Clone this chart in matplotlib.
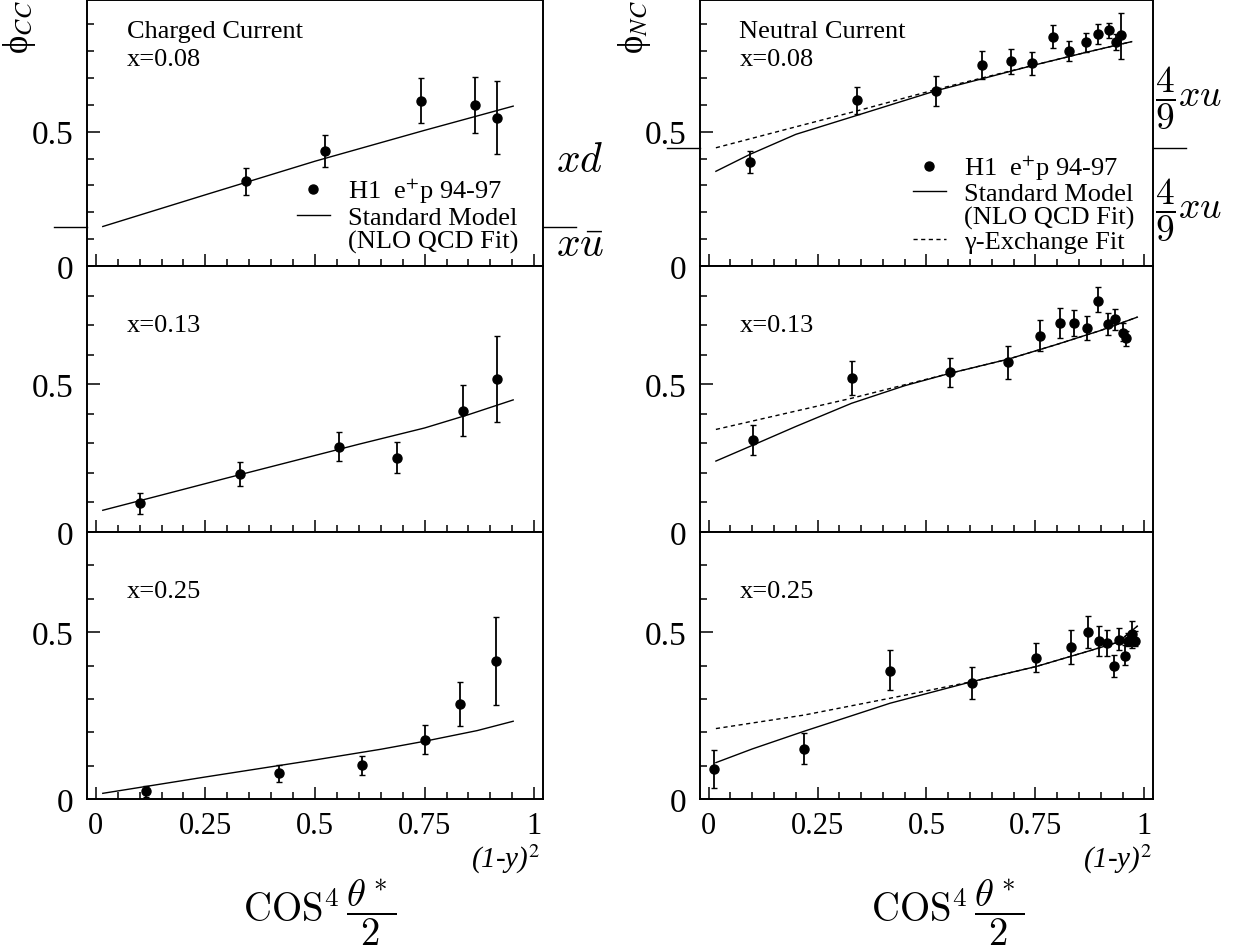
import numpy as np
import matplotlib.pyplot as plt
from matplotlib.lines import Line2D
from matplotlib.ticker import MultipleLocator

plt.rcParams['font.family'] = ['Liberation Serif', 'DejaVu Serif']
plt.rcParams['mathtext.fontset'] = 'stix'

# ---------------- data ----------------
# charged current, x = 0.08
cc08_x = [0.343, 0.523, 0.741, 0.865, 0.916]
cc08_y = [0.316, 0.429, 0.614, 0.600, 0.552]
cc08_lo = [0.266, 0.369, 0.531, 0.496, 0.417]
cc08_hi = [0.366, 0.488, 0.699, 0.705, 0.689]
cc08_sm_x = [0.016, 0.25, 0.5, 0.75, 0.952]
cc08_sm_y = [0.147, 0.265, 0.39, 0.505, 0.595]

# charged current, x = 0.13
cc13_x = [0.102, 0.329, 0.555, 0.688, 0.837, 0.916]
cc13_y = [0.097, 0.196, 0.287, 0.251, 0.411, 0.517]
cc13_lo = [0.061, 0.154, 0.239, 0.199, 0.324, 0.373]
cc13_hi = [0.132, 0.236, 0.337, 0.303, 0.498, 0.663]
cc13_sm_x = [0.016, 0.15, 0.3, 0.45, 0.6, 0.75, 0.85, 0.952]
cc13_sm_y = [0.0735, 0.125, 0.183, 0.24, 0.297, 0.352, 0.397, 0.447]

# charged current, x = 0.25
cc25_x = [0.114, 0.419, 0.607, 0.752, 0.830, 0.912]
cc25_y = [0.024, 0.0775, 0.1006, 0.178, 0.286, 0.414]
cc25_lo = [0.005, 0.050, 0.073, 0.136, 0.219, 0.282]
cc25_hi = [0.040, 0.103, 0.129, 0.221, 0.352, 0.546]
cc25_sm_x = [0.016, 0.25, 0.5, 0.65, 0.75, 0.87, 0.952]
cc25_sm_y = [0.017, 0.066, 0.117, 0.149, 0.173, 0.205, 0.233]

# neutral current, x = 0.08
nc08_x = [0.094, 0.341, 0.522, 0.628, 0.695, 0.743, 0.790, 0.828, 0.866, 0.893, 0.919, 0.934, 0.946]
nc08_y = [0.3875, 0.616, 0.6525, 0.7475, 0.7625, 0.755, 0.8525, 0.80, 0.834, 0.864, 0.879, 0.834, 0.859]
nc08_lo = [0.346, 0.565, 0.596, 0.696, 0.715, 0.711, 0.811, 0.7625, 0.796, 0.8275, 0.849, 0.8025, 0.771]
nc08_hi = [0.4275, 0.665, 0.709, 0.80, 0.809, 0.796, 0.896, 0.836, 0.869, 0.90, 0.906, 0.865, 0.94]
nc08_sm_x = [0.0165, 0.094, 0.2, 0.341, 0.522, 0.628, 0.743, 0.866, 0.971]
nc08_sm_y = [0.3525, 0.415, 0.49, 0.561, 0.6525, 0.697, 0.746, 0.795, 0.835]
nc08_gam_x = [0.0165, 0.2, 0.341, 0.522, 0.628, 0.743, 0.866, 0.971]
nc08_gam_y = [0.44, 0.518, 0.5775, 0.657, 0.70, 0.746, 0.795, 0.835]

# neutral current, x = 0.13
nc13_x = [0.101, 0.328, 0.554, 0.688, 0.761, 0.806, 0.838, 0.869, 0.893, 0.917, 0.933, 0.950, 0.959]
nc13_y = [0.311, 0.520, 0.541, 0.575, 0.663, 0.707, 0.707, 0.690, 0.783, 0.705, 0.722, 0.675, 0.656]
nc13_lo = [0.260, 0.464, 0.490, 0.519, 0.611, 0.656, 0.664, 0.648, 0.744, 0.667, 0.684, 0.645, 0.630]
nc13_hi = [0.362, 0.577, 0.590, 0.630, 0.716, 0.758, 0.750, 0.732, 0.829, 0.741, 0.755, 0.707, 0.679]
nc13_sm_x = [0.0165, 0.1, 0.2, 0.328, 0.45, 0.554, 0.688, 0.8, 0.9, 0.984]
nc13_sm_y = [0.24, 0.293, 0.357, 0.4355, 0.495, 0.537, 0.585, 0.635, 0.682, 0.727]
nc13_gam_x = [0.0165, 0.328, 0.554, 0.688, 0.8, 0.9, 0.984]
nc13_gam_y = [0.347, 0.4525, 0.537, 0.585, 0.635, 0.682, 0.727]

# neutral current, x = 0.25
nc25_x = [0.012, 0.219, 0.4165, 0.6055, 0.752, 0.831, 0.8716, 0.896, 0.914, 0.931, 0.943, 0.956, 0.963, 0.9725, 0.979]
nc25_y = [0.0895, 0.150, 0.385, 0.349, 0.4225, 0.454, 0.501, 0.473, 0.466, 0.399, 0.477, 0.4295, 0.473, 0.493, 0.473]
nc25_lo = [0.032, 0.104, 0.326, 0.299, 0.380, 0.404, 0.453, 0.4275, 0.4275, 0.367, 0.445, 0.402, 0.458, 0.4525, 0.458]
nc25_hi = [0.146, 0.198, 0.445, 0.395, 0.466, 0.505, 0.547, 0.518, 0.505, 0.432, 0.513, 0.462, 0.498, 0.533, 0.503]
nc25_sm_x = [0.0165, 0.1, 0.219, 0.4165, 0.6055, 0.752, 0.8716, 0.94, 0.984]
nc25_sm_y = [0.109, 0.15, 0.203, 0.287, 0.352, 0.397, 0.443, 0.47, 0.518]
nc25_gam_x = [0.0165, 0.219, 0.4165, 0.6055, 0.752, 0.8716, 0.94, 0.984]
nc25_gam_y = [0.211, 0.2515, 0.302, 0.352, 0.397, 0.443, 0.47, 0.518]

x_ticks = [0, 0.25, 0.5, 0.75, 1]
x_tick_labels = ['0', '0.25', '0.5', '0.75', '1']
y_ticks = [0, 0.5]
y_tick_labels = ['0', '0.5']
panel_ymax = [0.99, 0.9, 0.8]
x_values = ['x=0.08', 'x=0.13', 'x=0.25']


def draw_panel(ax, x, y, lo, hi, sm_x, sm_y, ymax, gam_x=None, gam_y=None, bottom=False):
    x = np.asarray(x)
    y = np.asarray(y)
    yerr = [y - np.asarray(lo), np.asarray(hi) - y]
    ax.errorbar(x, y, yerr=yerr, fmt='o', color='k', ms=6.5, elinewidth=1.3,
                capsize=2.5, capthick=1.0, zorder=3)
    ax.plot(sm_x, sm_y, color='k', lw=1.0)
    if gam_x is not None:
        ax.plot(gam_x, gam_y, color='k', lw=1.0, ls=(0, (3, 2.5)))
    ax.set_xlim(-0.02, 1.02)
    ax.set_ylim(0, ymax)
    ax.xaxis.set_minor_locator(MultipleLocator(0.05))
    ax.yaxis.set_minor_locator(MultipleLocator(0.1))
    ax.set_xticks(x_ticks, x_tick_labels)
    ax.set_yticks(y_ticks, y_tick_labels)
    ax.tick_params(which='both', direction='in', top=False, right=False, width=1.1)
    ax.tick_params(which='major', length=9)
    ax.tick_params(which='minor', length=5)
    ax.tick_params(axis='y', labelsize=24, pad=10)
    ax.tick_params(axis='x', labelsize=22, pad=9, labelbottom=bottom)
    for s in ax.spines.values():
        s.set_linewidth(1.4)


fig = plt.figure(figsize=(12.42, 9.53), dpi=100)

left_x = [87 / 1242, 700 / 1242]
widths = [456 / 1242, 453 / 1242]
bottoms = [1 - 267 / 953, 1 - 533 / 953, 1 - 800 / 953]
heights = [266 / 953, 266 / 953, 267 / 953]

cc_sets = [
    (cc08_x, cc08_y, cc08_lo, cc08_hi, cc08_sm_x, cc08_sm_y),
    (cc13_x, cc13_y, cc13_lo, cc13_hi, cc13_sm_x, cc13_sm_y),
    (cc25_x, cc25_y, cc25_lo, cc25_hi, cc25_sm_x, cc25_sm_y),
]
nc_sets = [
    (nc08_x, nc08_y, nc08_lo, nc08_hi, nc08_sm_x, nc08_sm_y, nc08_gam_x, nc08_gam_y),
    (nc13_x, nc13_y, nc13_lo, nc13_hi, nc13_sm_x, nc13_sm_y, nc13_gam_x, nc13_gam_y),
    (nc25_x, nc25_y, nc25_lo, nc25_hi, nc25_sm_x, nc25_sm_y, nc25_gam_x, nc25_gam_y),
]

cc_axes = []
nc_axes = []
for i in range(3):
    ax = fig.add_axes([left_x[0], bottoms[i], widths[0], heights[i]])
    xx, yy, lo, hi, smx, smy = cc_sets[i]
    draw_panel(ax, xx, yy, lo, hi, smx, smy, panel_ymax[i], bottom=(i == 2))
    ax.text(0.087, 0.78, x_values[i], transform=ax.transAxes, fontsize=19, va='center')
    cc_axes.append(ax)

    ax = fig.add_axes([left_x[1], bottoms[i], widths[1], heights[i]])
    xx, yy, lo, hi, smx, smy, gx, gy = nc_sets[i]
    draw_panel(ax, xx, yy, lo, hi, smx, smy, panel_ymax[i], gx, gy, bottom=(i == 2))
    ax.text(0.087, 0.78, x_values[i], transform=ax.transAxes, fontsize=19, va='center')
    nc_axes.append(ax)

cc_axes[0].text(0.087, 0.885, 'Charged Current', transform=cc_axes[0].transAxes, fontsize=19, va='center')
nc_axes[0].text(0.087, 0.885, 'Neutral Current', transform=nc_axes[0].transAxes, fontsize=19, va='center')

# legends
h_data = Line2D([], [], marker='o', color='k', ls='none', ms=6.5)
h_sm = Line2D([], [], color='k', lw=1.0)
h_blank = Line2D([], [], ls='none')
h_gam = Line2D([], [], color='k', lw=1.0, ls=(0, (3, 2.5)))
leg_kw = dict(loc='lower right', frameon=False, fontsize=19, handlelength=1.25,
              handletextpad=0.7, labelspacing=0.0, borderaxespad=0.1)
cc_axes[0].legend([h_data, h_sm, h_blank],
                  ['H1  e$^{+}$p 94-97', 'Standard Model', '(NLO QCD Fit)'],
                  bbox_to_anchor=(0.975, 0.0), **leg_kw)
nc_axes[0].legend([h_data, h_sm, h_blank, h_gam],
                  ['H1  e$^{+}$p 94-97', 'Standard Model', '(NLO QCD Fit)', '\u03b3-Exchange Fit'],
                  bbox_to_anchor=(0.988, 0.0), **leg_kw)

# side markers at the x->0 level of the fits
lvl_cc = cc08_sm_y[0]
lvl_nc = nc08_gam_y[0]
for ax, lvl in [(cc_axes[0], lvl_cc), (nc_axes[0], lvl_nc)]:
    ax.plot([-0.096, -0.02], [lvl, lvl], color='k', lw=1.0, clip_on=False)
    ax.plot([1.02, 1.095], [lvl, lvl], color='k', lw=1.0, clip_on=False)

cc_axes[0].text(1.05, 0.39, r'$xd$', fontsize=30, math_fontfamily='cm', va='center')
cc_axes[0].text(1.05, 0.075, r'$x\bar{u}$', fontsize=30, math_fontfamily='cm', va='center')
nc_axes[0].text(1.025, 0.63, r'$\dfrac{4}{9}xu$', fontsize=27, math_fontfamily='cm', va='center')
nc_axes[0].text(1.025, 0.21, r'$\dfrac{4}{9}xu$', fontsize=27, math_fontfamily='cm', va='center')

# axis titles
fig.text(20 / 1242, 1.0, '\u03d5$_{CC}$', rotation=90, fontsize=25, ha='center', va='top')
fig.text(634 / 1242, 1.0, '\u03d5$_{NC}$', rotation=90, fontsize=25, ha='center', va='top')
for xr, xc in [(540 / 1242, 320 / 1242), (1152 / 1242, 948 / 1242)]:
    fig.text(xr, 1 - 859 / 953, r'(1-y)$^{2}$', fontsize=21, style='italic', ha='right', va='center')
    fig.text(xc, 1 - 913 / 953, r'$\mathrm{COS}^4\,\dfrac{\theta^*}{2}$', fontsize=28,
             math_fontfamily='cm', ha='center', va='center')

fig.savefig('out.png', dpi=100)
